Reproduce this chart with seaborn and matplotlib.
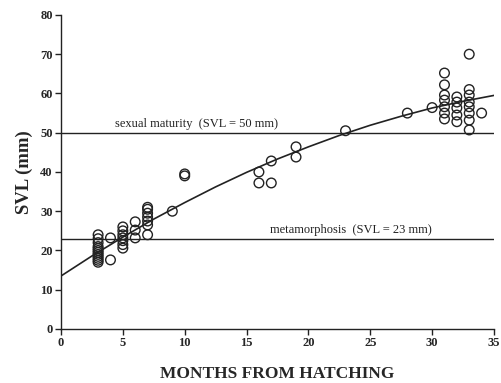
import matplotlib
matplotlib.use("Agg")
import matplotlib.pyplot as plt
import seaborn as sns
import pandas as pd
import numpy as np

# observed data (months, SVL mm)
months = ([3]*12 + [4]*2 + [5]*7 + [6]*3 + [7]*7 + [9] + [10]*2 + [16]*2 + [17]*2 + [19]*2
          + [23] + [28] + [30] + [31]*7 + [32]*5 + [33]*8 + [34])
svl = ([17, 17.5, 18, 18.5, 19, 19.5, 20, 20.5, 21, 22, 23, 24]
       + [17.6, 23.2]
       + [20.6, 21.5, 22.5, 23.2, 24, 25, 26]
       + [23.2, 25.2, 27.3]
       + [24, 26.5, 27.5, 28.5, 29.5, 30.5, 31]
       + [30]
       + [39, 39.5]
       + [37.2, 40]
       + [37.2, 42.8]
       + [43.8, 46.4]
       + [50.5]
       + [55]
       + [56.4]
       + [53.5, 55, 56.6, 58.3, 59.6, 62.2, 65.2]
       + [52.8, 54.5, 56.3, 57.8, 59.1]
       + [50.7, 53.2, 55, 56.6, 57.8, 59.6, 61, 70]
       + [55])

# fitted growth curve
curve_x = [0, 2.5, 5, 7.5, 10, 12.5, 15, 17.5, 20, 22.5, 25, 27.5, 30, 32.5, 35]
curve_y = [13.5, 18.6, 23.4, 28.0, 32.2, 36.2, 39.9, 43.3, 46.4, 49.3, 51.9, 54.2, 56.3, 58.0, 59.5]

ref_levels = [50, 23]
ref_labels = ["sexual maturity  (SVL = 50 mm)", "metamorphosis  (SVL = 23 mm)"]
ref_label_x = [4.4, 16.9]

xticks = [0, 5, 10, 15, 20, 25, 30, 35]
yticks = [0, 10, 20, 30, 40, 50, 60, 70, 80]

sns.set_style("ticks")
plt.rcParams['font.family'] = ['Liberation Serif', 'DejaVu Serif']

fig = plt.figure(figsize=(5.02, 3.83), dpi=100)
ax = fig.add_axes([0.1215, 0.141, 0.8625, 0.820])

df = pd.DataFrame({"months": months, "svl": svl})
cdf = pd.DataFrame({"x": curve_x, "y": curve_y})

for lvl in ref_levels:
    ax.plot([0, 35], [lvl, lvl], color="#222222", lw=1.0, zorder=1)

sns.lineplot(data=cdf, x="x", y="y", ax=ax, color="#222222", lw=1.2, zorder=2)
sns.scatterplot(data=df, x="months", y="svl", ax=ax, marker="o", s=48,
                facecolors="none", edgecolor="#222222", linewidth=1.0, zorder=3)

for lvl, lab, lx in zip(ref_levels, ref_labels, ref_label_x):
    ax.text(lx, lvl + 0.6, lab, fontsize=9, color="#222222", ha="left", va="bottom")

ax.set_xlim(0, 35)
ax.set_ylim(0, 80)
ax.set_xticks(xticks)
ax.set_yticks(yticks)
ax.set_xticklabels([str(t) for t in xticks], fontweight="bold", fontsize=9)
ax.set_yticklabels([str(t) for t in yticks], fontweight="bold", fontsize=9)
ax.tick_params(direction="out", length=4, width=1, color="#222222", pad=2)
for s in ["top", "right"]:
    ax.spines[s].set_visible(False)
for s in ["left", "bottom"]:
    ax.spines[s].set_color("#222222")
    ax.spines[s].set_linewidth(1.0)

ax.set_xlabel("MONTHS FROM HATCHING", fontweight="bold", fontsize=12.5, labelpad=12)
ax.set_ylabel("SVL (mm)", fontweight="bold", fontsize=13.5, labelpad=5)

fig.savefig("out.png", dpi=100)
